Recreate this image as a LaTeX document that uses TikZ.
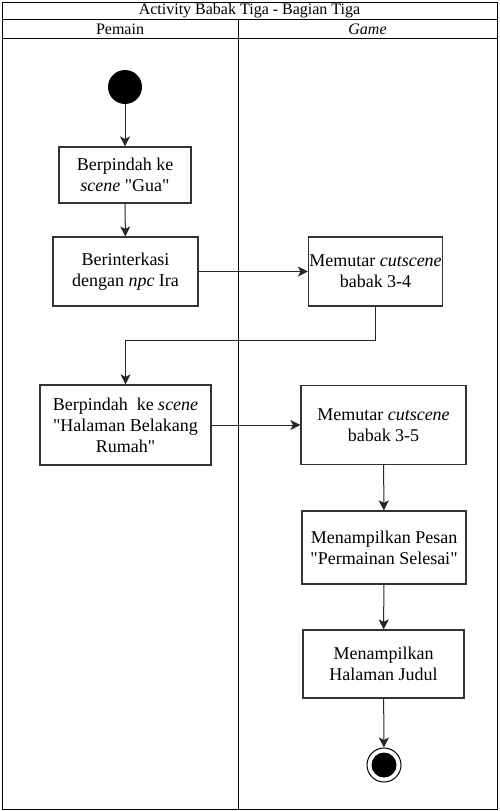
\documentclass[tikz,border=0pt]{standalone}
\usepackage{fontspec}
\setmainfont{Liberation Serif}[Ligatures=TeXOff]
\usetikzlibrary{arrows.meta}
\begin{document}
\begin{tikzpicture}[x=1pt,y=-1pt,
  txt/.style={font=\fontsize{18}{21}\selectfont},
  head/.style={font=\fontsize{16}{18}\selectfont, inner sep=0pt},
  act/.style={txt, draw=black!80, line width=1.2pt, align=center, inner sep=0pt},
  flow/.style={draw=black!85, line width=1pt, -{Stealth[length=10pt,width=10pt,inset=2.5pt]}},
  lane/.style={draw=black, line width=1pt}]
\useasboundingbox (0,0) rectangle (499,811);
% swimlane frame
\draw[lane] (2,2) rectangle (497,809);
\draw[lane] (2,19) -- (497,19);
\draw[lane] (2,38) -- (497,38);
\draw[lane] (238,19) -- (238,809);
\node[head] (title) at (249.5,11) {Activity Babak Tiga - Bagian Tiga};
\node[head] (pemain) at (120,29) {Pemain};
\node[head] (game) at (367.5,29) {\itshape Game};
% activity nodes
\node[circle, fill=black, minimum size=34pt, inner sep=0pt] (start) at (125,87) {};
\node[act, minimum width=132pt, minimum height=56pt] (gua) at (125,175) {Berpindah ke\\\textit{scene} "Gua"};
\node[act, minimum width=145pt, minimum height=69pt] (ira) at (125.5,271.5) {Berinterkasi\\dengan \textit{npc} Ira};
\node[act, minimum width=134pt, minimum height=69pt] (cuta) at (375.5,271.5) {Memutar \textit{cutscene}\\babak 3-4};
\node[act, minimum width=171pt, minimum height=80pt] (rumah) at (125.5,425) {Berpindah\ \ ke \textit{scene}\\"Halaman Belakang\\Rumah"};
\node[act, minimum width=165pt, minimum height=79pt] (cutb) at (383.5,425) {Memutar \textit{cutscene}\\babak 3-5};
\node[act, minimum width=164pt, minimum height=73pt] (pesan) at (384,547.5) {Menampilkan Pesan\\"Permainan Selesai"};
\node[act, minimum width=161pt, minimum height=68pt] (judul) at (383.5,664) {Menampilkan\\Halaman Judul};
\node[circle, draw=black, line width=1pt, minimum size=34pt, inner sep=0pt] (finish) at (384,765) {};
\node[circle, fill=black, minimum size=25pt, inner sep=0pt] (finishdot) at (finish) {};
% control flow
\draw[flow] (start) -- (gua);
\draw[flow] (gua) -- (ira);
\draw[flow] (ira) -- (cuta);
\draw[flow] (cuta.south) -- ++(0,34) -| (rumah.north);
\draw[flow] (rumah) -- (cutb);
\draw[flow] (cutb) -- (pesan);
\draw[flow] (pesan) -- (judul);
\draw[flow] (judul) -- (finish);
\end{tikzpicture}
\end{document}
